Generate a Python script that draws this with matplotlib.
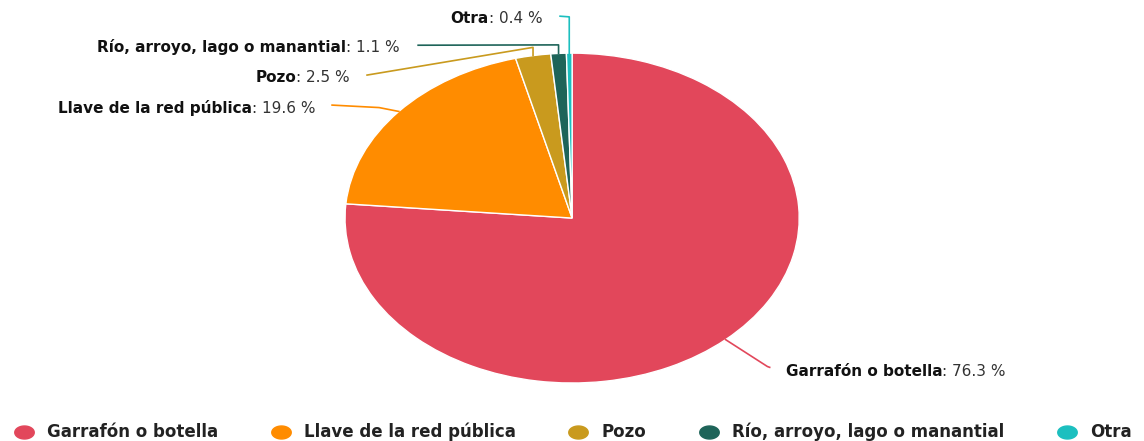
import matplotlib.pyplot as plt
import numpy as np
from matplotlib.lines import Line2D
from matplotlib.path import Path
from matplotlib.offsetbox import TextArea, HPacker, AnnotationBbox

# data
categories = ['Garrafón o botella', 'Llave de la red pública', 'Pozo',
              'Río, arroyo, lago o manantial', 'Otra']
values = [76.3, 19.6, 2.5, 1.1, 0.4]
colors = ['#E2475B', '#FF8C00', '#C99A1E', '#1E6459', '#1CBFBF']

# label layout (axes data coords, pie radius = 1): text anchor, elbow, line end
label_pos = [(0.94, -0.93), (-1.13, 0.67), (-0.98, 0.85), (-0.76, 1.04), (-0.13, 1.21)]
elbows = [(0.86, -0.90), (-0.85, 0.67), (None, 1.035), (None, 1.05), (None, 1.22)]
line_end = [(0.87, -0.905), (-1.057, 0.685), (-0.903, 0.867), (-0.678, 1.048), (-0.053, 1.224)]

fig = plt.figure(figsize=(11.44, 4.41), dpi=100)
ax = fig.add_axes([0.3016, 0.1315, 0.397, 0.748])

wedges, _ = ax.pie(values, colors=colors, startangle=90, counterclock=False,
                   radius=1, wedgeprops=dict(edgecolor='white', linewidth=1))
ax.set_aspect('auto')
ax.set_xlim(-1, 1)
ax.set_ylim(-1, 1)
ax.axis('off')

for i, w in enumerate(wedges):
    mid = np.deg2rad((w.theta1 + w.theta2) / 2)
    ex, ey = np.cos(mid), np.sin(mid)
    elx, ely = elbows[i]
    if elx is None:
        elx = ex
    lx, ly = line_end[i]
    ax.plot([ex, elx, lx], [ey, ely, ly], color=colors[i], lw=1.2,
            clip_on=False, solid_joinstyle='round')

    name = TextArea(categories[i], textprops=dict(fontsize=11, fontweight='bold', color='#111111'))
    val = TextArea(': %.1f %%' % values[i], textprops=dict(fontsize=11, color='#333333'))
    box = HPacker(children=[name, val], pad=0, sep=0, align='baseline')
    tx, ty = label_pos[i]
    align = (0, 0.5) if tx > 0 else (1, 0.5)
    ab = AnnotationBbox(box, (tx, ty), xycoords='data', box_alignment=align,
                        frameon=False, pad=0, annotation_clip=False)
    ax.add_artist(ab)

# stretched circle marker, like the reference legend dots
t = np.linspace(0, 2 * np.pi, 60)
ellipse = Path(np.column_stack([1.5 * np.cos(t), np.sin(t)]), closed=True)

handles = [Line2D([], [], marker=ellipse, linestyle='none', markersize=14,
                  markerfacecolor=c, markeredgecolor=c) for c in colors]
fig.legend(handles, categories, loc='lower center', bbox_to_anchor=(0.5, -0.035),
           ncol=5, frameon=False, prop=dict(size=12, weight='bold'), handletextpad=0.7,
           columnspacing=3.05, handlelength=1.4, labelcolor='#222222')

fig.savefig('out.png', dpi=100)
